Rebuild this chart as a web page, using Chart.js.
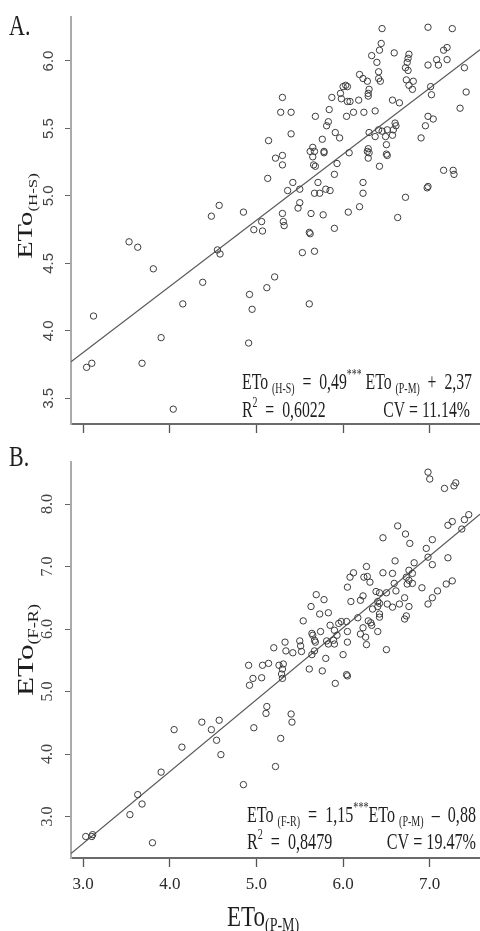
<!DOCTYPE html>
<html><head><meta charset="utf-8">
<script src="https://cdn.jsdelivr.net/npm/chart.js@4.4.1/dist/chart.umd.min.js"></script>
<style>
html,body{margin:0;padding:0;background:#fff;width:480px;height:931px;overflow:hidden;}
.wrap{position:absolute;left:0;width:480px;}
#wa{top:0;height:445px;}
#wb{top:445px;height:486px;}
canvas{display:block;}
</style></head><body>
<div class="wrap" id="wa"><canvas id="ca" width="480" height="445"></canvas></div>
<div class="wrap" id="wb"><canvas id="cb" width="480" height="486"></canvas></div>
<script>
// ---------- DATA ----------
const xTicks = [3.0, 4.0, 5.0, 6.0, 7.0];
const yTicksA = [3.5, 4.0, 4.5, 5.0, 5.5, 6.0];
const yTicksB = [3.0, 4.0, 5.0, 6.0, 7.0, 8.0];

// Panel A: ETo(P-M) vs ETo(H-S)
const etoPM_A = [
 6.45,6.98,7.26,6.44,6.42,6.33,6.59,6.76,6.75,6.74,
 6.39,6.72,6.75,6.41,6.41,6.43,6.19,6.23,6.28,6.98,
 7.08,7.10,7.16,7.20,7.20,7.40,7.42,7.35,6.73,6.81,
 6.76,6.80,7.01,7.02,6.03,6.05,6.00,5.97,5.87,6.30,
 6.29,6.29,5.98,6.05,6.08,6.18,6.57,6.65,5.30,5.28,
 5.40,5.84,6.04,6.12,6.24,6.37,5.68,5.83,5.81,5.40,
 5.14,5.91,5.96,5.76,5.65,5.67,5.78,6.30,6.41,6.45,
 6.51,6.58,6.60,6.61,6.57,6.49,6.37,6.50,6.50,6.29,
 6.28,6.30,6.07,6.90,6.95,6.98,7.04,5.22,5.30,5.30,
 5.62,5.65,5.66,5.68,5.78,5.93,6.29,6.42,6.51,5.90,
 5.13,5.42,5.36,5.50,5.71,5.67,5.73,5.80,5.85,6.23,
 6.23,7.16,7.27,7.28,6.98,6.97,6.72,6.63,5.50,5.48,
 5.30,5.31,5.32,5.63,5.77,6.06,6.19,5.90,5.06,5.07,
 4.97,4.85,4.57,4.48,5.61,5.62,5.53,5.67,3.53,3.63,
 4.55,4.58,3.81,4.38,5.21,5.12,4.92,4.15,5.61,4.95,
 3.12,3.90,4.91,3.04,3.10,3.68,4.04
];
const etoHS_A = [
 6.24,6.25,6.24,6.13,6.08,6.04,6.06,6.05,6.02,5.99,
 5.99,5.95,5.93,5.92,5.87,5.85,5.90,5.87,5.85,5.97,
 6.01,5.97,6.08,6.10,6.01,5.95,5.77,5.65,5.86,5.85,
 5.82,5.79,5.81,5.75,5.82,5.81,5.81,5.76,5.73,5.79,
 5.76,5.74,5.72,5.70,5.70,5.71,5.71,5.69,5.73,5.62,
 5.62,5.64,5.59,5.62,5.62,5.63,5.59,5.55,5.52,5.46,
 5.41,5.47,5.43,5.42,5.36,5.33,5.33,5.47,5.49,5.48,
 5.49,5.49,5.54,5.52,5.45,5.44,5.44,5.38,5.31,5.35,
 5.33,5.32,5.32,5.43,5.52,5.59,5.57,5.28,5.30,5.23,
 5.33,5.29,5.23,5.22,5.32,5.24,5.28,5.22,5.30,5.16,
 5.13,5.10,5.04,5.05,5.10,5.02,5.02,5.05,5.04,5.10,
 5.02,5.19,5.19,5.16,5.07,5.06,4.99,4.84,4.95,4.91,
 4.87,4.81,4.78,4.87,4.86,4.88,4.92,4.76,4.81,4.74,
 4.75,4.88,4.93,4.85,4.73,4.72,4.58,4.59,4.66,4.62,
 4.60,4.57,4.46,4.36,4.40,4.32,4.27,4.20,4.20,4.16,
 4.11,3.95,3.91,3.73,3.76,3.76,3.42
];

// Panel B: ETo(P-M) vs ETo(F-R)
const etoPM_B = [
 6.98,7.00,7.17,7.28,7.30,7.45,7.40,7.37,7.26,7.21,
 7.03,6.96,6.98,7.21,7.03,6.46,6.63,6.72,6.77,6.60,
 6.82,6.27,6.46,6.57,6.28,6.24,6.31,6.12,6.08,6.05,
 6.76,6.80,6.73,6.76,6.80,6.74,6.91,7.26,7.19,7.09,
 7.03,6.98,6.59,6.61,6.38,6.42,6.50,6.40,6.42,6.40,
 6.23,6.20,6.09,6.51,6.57,6.65,6.71,6.76,6.73,6.34,
 6.42,6.42,6.29,6.32,6.33,5.69,5.78,5.63,5.73,5.83,
 5.54,5.98,5.95,5.85,6.17,6.71,6.04,5.74,5.64,5.65,
 5.67,5.68,5.67,5.64,5.90,5.93,5.89,5.81,5.83,5.90,
 6.05,6.05,6.00,6.04,6.20,6.26,6.27,6.23,6.40,6.50,
 5.50,5.51,5.42,5.52,5.33,5.34,5.20,5.31,5.26,5.30,
 5.30,5.29,5.80,5.76,5.61,5.91,6.05,4.91,4.96,5.06,
 5.07,5.14,4.92,5.12,5.11,4.97,5.40,5.41,5.28,5.22,
 4.37,4.48,4.54,4.59,4.57,4.05,4.14,3.90,4.85,3.63,
 3.68,3.54,3.03,3.10,3.11,3.80
];
const etoFR_B = [
 8.51,8.40,8.25,8.29,8.34,7.83,7.75,7.60,7.72,7.66,
 7.43,7.29,7.15,7.14,7.03,7.46,7.65,7.52,7.37,7.09,
 7.06,7.00,6.90,6.89,6.84,6.83,6.75,6.90,6.83,6.67,
 6.94,6.89,6.83,6.78,6.73,6.72,6.66,6.77,6.72,6.61,
 6.50,6.40,6.73,6.61,6.60,6.58,6.58,6.44,6.41,6.36,
 6.53,6.46,6.44,6.40,6.35,6.40,6.50,6.36,6.21,6.32,
 6.24,6.19,6.13,6.10,6.06,6.55,6.47,6.36,6.24,6.26,
 6.13,6.12,6.09,6.06,6.18,6.16,6.12,5.96,5.93,5.90,
 5.82,5.79,5.65,5.59,5.98,5.90,5.82,5.81,5.76,5.76,
 5.96,5.79,5.59,5.27,5.92,5.87,5.75,6.02,5.96,5.67,
 5.81,5.73,5.62,5.64,5.79,5.65,5.70,5.44,5.42,5.36,
 5.21,5.28,5.53,5.33,5.36,5.13,5.25,5.42,5.21,5.22,
 5.42,5.45,5.10,4.76,4.65,4.42,4.64,4.51,4.25,3.80,
 4.51,4.39,4.22,3.99,4.54,4.39,4.11,3.71,3.51,3.35,
 3.20,3.03,2.68,2.68,2.71,2.58
];

// Regression fits printed on the chart
const fitA = [0.49, 2.37];   // slope, intercept
const fitB = [1.15, -0.88];

// ---------- LAYOUT / STYLE ----------
const SERIF = '"Liberation Serif", "Times New Roman", serif';
const SANS = '"Liberation Sans", Arial, sans-serif';
const X_MIN = 2.86, X_MAX = 7.58;

function pts(xs, ys){ const n=Math.min(xs.length, ys.length); const a=[]; for(let i=0;i<n;i++) a.push({x:xs[i], y:ys[i]}); return a; }
function fitLine(f){ return [{x:X_MIN, y:f[0]*X_MIN+f[1]}, {x:X_MAX, y:f[0]*X_MAX+f[1]}]; }

function drawSegs(ctx, segs, x, y, o){
  o = o || {};
  ctx.save();
  let w = 0;
  for (const s of segs){ ctx.font = `${s.size}px ${s.fam||SERIF}`; s._w = ctx.measureText(s.t).width; w += s._w; }
  const sx = o.width ? o.width / w : (o.sx || 1);
  ctx.translate(x, y);
  ctx.scale(1, o.sy || 1);
  if (o.rotate) ctx.rotate(-Math.PI/2); else ctx.scale(sx, 1);
  let pos = o.align === 'right' ? -w : (o.align === 'center' ? -w/2 : 0);
  ctx.fillStyle = o.color || '#1e1e1e';
  ctx.textBaseline = 'alphabetic';
  ctx.textAlign = 'left';
  for (const s of segs){ ctx.font = `${s.size}px ${s.fam||SERIF}`; ctx.fillText(s.t, pos, (o.base||0) + (s.dy||0)); pos += s._w; }
  ctx.restore();
  return sx;
}

function scatterDataset(data){
  return {data, showLine:false, pointStyle:'circle', pointRadius:3.2, pointHoverRadius:3.2,
          borderColor:'#3c3c3c', backgroundColor:'rgba(0,0,0,0)', borderWidth:1, clip:false};
}
function lineDataset(data){
  return {data, showLine:true, pointRadius:0, borderColor:'#5a5a5a', borderWidth:1.2, fill:false, tension:0};
}

function makeChart(canvas, cfg){
  return new Chart(canvas, {
    type:'scatter',
    data:{datasets:[scatterDataset(cfg.points), lineDataset(cfg.line)]},
    options:{
      responsive:false, animation:false, events:[],
      layout:{padding:{top:cfg.top, right:0, left:0, bottom:0}, autoPadding:false},
      plugins:{legend:{display:false}, tooltip:{enabled:false}},
      scales:{
        x:{type:'linear', min:X_MIN, max:X_MAX,
           afterBuildTicks:s=>{ s.ticks = xTicks.map(v=>({value:v})); },
           afterFit:s=>{ s.height = cfg.xh; },
           border:{display:true, color:'#6a6a6a', width:2},
           grid:{display:true, drawOnChartArea:false, drawTicks:true, tickLength:9, tickColor:'#555', tickWidth:1.3},
           ticks:{display:cfg.xlabels, autoSkip:false, maxRotation:0, padding:7,
                  font:{family:SERIF, size:17}, color:'#2a2a2a', callback:v=>Number(v).toFixed(1)}},
        y:{type:'linear', min:cfg.ymin, max:cfg.ymax,
           afterBuildTicks:s=>{ s.ticks = cfg.yticks.map(v=>({value:v})); },
           afterFit:s=>{ s.width = 71; },
           border:{display:true, color:'#aaaaaa', width:2},
           grid:{display:true, drawOnChartArea:false, drawTicks:true, tickLength:6, tickColor:'#666', tickWidth:1},
           ticks:{autoSkip:false, minRotation:90, maxRotation:90, crossAlign:'center', padding:cfg.ypad,
                  font:{family:cfg.yfam, size:cfg.yfs}, color:'#444', callback:v=>Number(v).toFixed(1)}}
      }
    },
    plugins:[{id:'annot', afterDraw(chart){ cfg.draw(chart.ctx); }}]
  });
}

const eqSub = 10, eqMain = 16;
makeChart(document.getElementById('ca'), {
  points: pts(etoPM_A, etoHS_A), line: fitLine(fitA),
  top:17, xh:21, ymin:3.31, ymax:6.326, yticks:yTicksA, xlabels:false,
  yfam:SANS, yfs:15, ypad:6,
  draw(ctx){
    drawSegs(ctx, [{t:'A.', size:22}], 9, 35, {sy:1.3});
    drawSegs(ctx, [{t:'ETo', size:22}, {t:'(H-S)', size:13, dy:5}], 25, 216, {rotate:true, sy:1.3, align:'center', base:7});
    const sx = drawSegs(ctx, [
      {t:'ETo', size:eqMain}, {t:' ', size:eqMain}, {t:'(H-S)', size:eqSub, dy:3},
      {t:'  =  0,49', size:eqMain}, {t:'***', size:eqSub, dy:-7},
      {t:' ETo', size:eqMain}, {t:' ', size:eqMain}, {t:'(P-M)', size:eqSub, dy:3},
      {t:'  +  2,37', size:eqMain}], 242, 389, {width:230, sy:1.4});
    drawSegs(ctx, [{t:'R', size:eqMain}, {t:'2', size:eqSub, dy:-7}, {t:'  =  0,6022', size:eqMain}], 242, 417, {sx, sy:1.4});
    drawSegs(ctx, [{t:'CV = 11.14%', size:eqMain}], 470, 417, {sx, sy:1.4, align:'right'});
  }
});

makeChart(document.getElementById('cb'), {
  points: pts(etoPM_B, etoFR_B), line: fitLine(fitB),
  top:2, xh:73, ymin:2.336, ymax:8.679, yticks:yTicksB, xlabels:true,
  yfam:SERIF, yfs:16, ypad:7,
  draw(ctx){
    drawSegs(ctx, [{t:'B.', size:22}], 9, 21, {sy:1.3});
    drawSegs(ctx, [{t:'ETo', size:24}, {t:'(F-R)', size:14, dy:5}], 25, 205, {rotate:true, sy:1.3, align:'center', base:8});
    const sx = drawSegs(ctx, [
      {t:'ETo', size:eqMain}, {t:' ', size:eqMain}, {t:'(F-R)', size:eqSub, dy:3},
      {t:'  =  1,15', size:eqMain}, {t:'***', size:eqSub, dy:-7},
      {t:'ETo', size:eqMain}, {t:' ', size:eqMain}, {t:'(P-M)', size:eqSub, dy:3},
      {t:'  \u2013  0,88', size:eqMain}], 247, 377, {width:229, sy:1.4});
    drawSegs(ctx, [{t:'R', size:eqMain}, {t:'2', size:eqSub, dy:-7}, {t:'  =  0,8479', size:eqMain}], 247, 404, {sx, sy:1.4});
    drawSegs(ctx, [{t:'CV = 19.47%', size:eqMain}], 476, 404, {sx, sy:1.4, align:'right'});
    drawSegs(ctx, [{t:'ETo', size:23}, {t:'(P-M)', size:14, dy:4}], 227, 481, {sy:1.27});
  }
});
</script>
</body></html>
